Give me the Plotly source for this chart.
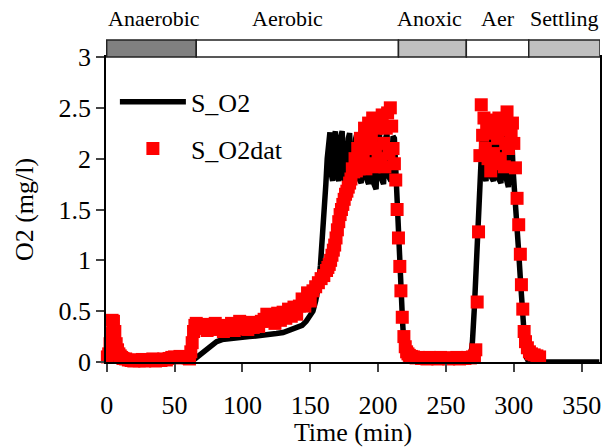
import plotly.graph_objects as go

# ---- data ----
t_model = [0, 10, 20, 30, 40, 50, 60, 64, 66, 68, 70, 72, 75, 78, 81, 85, 90, 95, 100, 105, 110,
           115, 120, 125, 130, 135, 140, 144, 147, 150, 152, 154, 156, 157.5, 159, 160.5, 161.5,
           162.5, 163.3, 164.5, 165.5, 166.5, 167.5, 168.5, 169.5, 171, 172.5, 173.5, 175, 176.5,
           178, 179, 180.5, 182, 183.5, 184.5, 186, 187.5, 189, 190, 191.5, 193, 194.5, 195.5, 197,
           198.5, 200, 201, 202.5, 204, 205.5, 206.5, 208, 209.5, 211, 212, 213, 214, 215, 216, 217,
           218, 219, 220, 221, 223, 240, 260, 267, 268, 269.5, 271, 272, 273, 274, 275, 276, 276.8,
           278, 279.5, 281, 282, 283.5, 285, 286.5, 287.5, 289, 290.5, 292, 293, 294.5, 296, 297.5,
           298.5, 299.5, 300.5, 302, 303.5, 305, 306.5, 308, 309.5, 311, 315, 330, 345, 363]
s_o2 = [0, 0, 0, 0, 0, 0, 0.01, 0.02, 0.04, 0.06, 0.08, 0.1, 0.13, 0.17, 0.2, 0.22, 0.23, 0.24,
        0.245, 0.25, 0.255, 0.26, 0.27, 0.28, 0.29, 0.31, 0.33, 0.36, 0.4, 0.45, 0.5, 0.6, 0.75,
        0.95, 1.2, 1.5, 1.75, 2.0, 2.15, 2.26, 1.85, 1.78, 2.2, 2.27, 1.85, 1.78, 2.22, 2.27, 1.8,
        1.77, 2.2, 2.25, 1.82, 1.78, 2.2, 2.25, 1.8, 1.76, 2.2, 2.25, 1.8, 1.75, 2.18, 2.24, 1.75,
        1.7, 2.2, 2.25, 1.8, 1.75, 2.2, 2.25, 1.82, 1.78, 2.22, 2.2, 1.9, 1.55, 1.22, 0.92, 0.65,
        0.4, 0.18, 0.05, 0.01, 0.0, 0.0, 0.0, 0.0, 0.02, 0.2, 0.55, 0.82, 1.12, 1.45, 1.78, 2.1,
        2.25, 1.85, 1.78, 2.2, 2.25, 1.82, 1.78, 2.2, 2.25, 1.8, 1.76, 2.2, 2.24, 1.8, 1.72, 2.15,
        2.2, 1.88, 1.62, 1.38, 1.1, 0.78, 0.45, 0.2, 0.04, 0.0, 0.0, 0.0, 0.0, 0.0]

t_dat = [0.5, 1.5, 2.5, 3.3, 4, 5, 6, 7, 8, 9, 10, 11, 12, 14, 16, 18, 20, 22, 24, 26, 28, 30,
         32, 34, 36, 38, 40, 42, 44, 46, 48, 50, 52, 54, 56, 58, 60, 61, 62, 63, 64, 65, 66, 68,
         70, 72, 74, 76, 78, 80, 82, 84, 86, 88, 90, 92, 94, 96, 98, 100, 102, 104, 106, 108, 110,
         112, 114, 116, 118, 120, 122, 124, 126, 128, 130, 132, 134, 136, 138, 140, 142, 144, 146,
         148, 150, 152, 154, 156, 158, 160, 162, 163, 164, 165, 166, 167, 168, 169, 170, 171, 172,
         173, 174, 175, 176, 177, 178, 179, 180, 181, 182, 183, 184, 185, 186, 187, 188, 189, 190,
         191, 192, 193, 194, 195, 196, 197, 198, 199, 200, 201, 202, 203, 204, 205, 206, 207, 208,
         209, 210, 211, 212, 213, 214, 215, 216, 216.8, 217.8, 219, 220, 221, 222, 223, 224.5,
         226, 228, 230, 232, 234, 236, 238, 240, 242, 244, 246, 248, 250, 252, 254, 256, 258, 260,
         262, 264, 266, 268, 269.5, 271, 272, 273, 274, 275, 276, 277, 278, 279, 280, 281, 282,
         283, 284, 285, 286, 287, 288, 289, 290, 291, 292, 293, 294, 295, 296, 297, 298, 299, 300,
         301.2, 302.4, 303.6, 304.8, 305.6, 306.6, 307.6, 308.6, 310, 311.5, 313, 315, 317, 319]
s_o2dat = [0.05, 0.08, 0.18, 0.28, 0.41, 0.4, 0.3, 0.18, 0.12, 0.08, 0.06, 0.045, 0.035, 0.03,
           0.02, 0.015, 0.01, 0.02, 0.012, 0.025, 0.01, 0.02, 0.015, 0.03, 0.01, 0.02, 0.015,
           0.03, 0.02, 0.035, 0.045, 0.05, 0.04, 0.055, 0.045, 0.05, 0.04, 0.03, 0.1, 0.19, 0.3,
           0.36, 0.38, 0.36, 0.33, 0.37, 0.31, 0.36, 0.33, 0.38, 0.32, 0.35, 0.3, 0.36, 0.33, 0.38,
           0.31, 0.36, 0.4, 0.33, 0.37, 0.32, 0.39, 0.34, 0.38, 0.35, 0.4, 0.42, 0.47, 0.4, 0.46,
           0.38, 0.48, 0.41, 0.49, 0.43, 0.52, 0.45, 0.54, 0.47, 0.55, 0.62, 0.55, 0.68, 0.6, 0.7,
           0.74, 0.78, 0.82, 0.85, 0.9, 0.93, 0.96, 1.0, 1.05, 1.1, 1.15, 1.22, 1.3, 1.38, 1.45,
           1.5, 1.55, 1.6, 1.65, 1.68, 1.72, 1.76, 1.8, 1.9, 1.87, 2.0, 1.88, 2.1, 1.9, 2.2, 1.95,
           2.05, 2.3, 1.9, 2.15, 2.35, 1.95, 2.2, 2.4, 1.92, 2.1, 2.3, 2.0, 2.38, 1.95, 2.43, 2.15,
           1.92, 2.3, 2.45, 2.05, 2.5, 2.32, 2.1, 1.95, 1.79, 1.5, 1.22, 0.94, 0.7, 0.44, 0.25,
           0.15, 0.1, 0.08, 0.065, 0.055, 0.05, 0.04, 0.045, 0.035, 0.04, 0.03, 0.045, 0.035, 0.04,
           0.03, 0.045, 0.035, 0.04, 0.03, 0.04, 0.035, 0.045, 0.03, 0.04, 0.035, 0.045, 0.04,
           0.05, 0.06, 0.12, 0.59, 1.28, 2.03, 2.53, 2.23, 2.4, 2.1, 2.3, 2.0, 2.38, 1.88, 2.25,
           2.05, 2.35, 1.95, 2.2, 2.4, 2.0, 2.28, 2.35, 1.92, 2.15, 2.46, 2.1, 2.3, 2.25, 2.35,
           2.15, 1.91, 1.61, 1.35, 1.06, 0.76, 0.52, 0.3, 0.2, 0.14, 0.1, 0.08, 0.07, 0.06, 0.05,
           0.045]

phase_names = ["Anaerobic", "Aerobic", "Anoxic", "Aer", "Settling"]
phase_start = [0, 66, 215, 265, 311]
phase_end = [66, 215, 265, 311, 363.5]
phase_label_t = [35, 133, 238, 288, 337]
phase_colors = ["#808080", "#ffffff", "#c0c0c0", "#ffffff", "#c0c0c0"]

x_ticks = [0, 50, 100, 150, 200, 250, 300, 350]

FONT = "Liberation Serif"

fig = go.Figure()
fig.add_trace(go.Scatter(x=t_model, y=s_o2, mode="lines", name="S_O2",
                         line=dict(color="black", width=5.5), legendgroup="a"))
fig.add_trace(go.Scatter(x=t_dat, y=s_o2dat, mode="markers", name="S_O2dat",
                         marker=dict(symbol="square", size=13, color="#ff0000"),
                         cliponaxis=False, legendgroup="b"))

plot_h = 305.0
for name, s, e, c, lt in zip(phase_names, phase_start, phase_end, phase_colors, phase_label_t):
    fig.add_shape(type="rect", xref="x", yref="paper", x0=s, x1=e, y0=1.0, y1=1.0 + 17 / plot_h,
                  fillcolor=c, line=dict(color="#222222", width=1.5), layer="above")
    fig.add_annotation(x=lt, y=1.0 + 39 / plot_h, xref="x", yref="paper", text=name,
                       showarrow=False, xanchor="center", yanchor="middle",
                       font=dict(family=FONT, size=22, color="black"))

fig.update_layout(
    width=608, height=447,
    margin=dict(l=106, r=6, t=57, b=85),
    paper_bgcolor="white", plot_bgcolor="white",
    font=dict(family=FONT, size=26, color="black"),
    showlegend=True,
    legend=dict(x=0.018, y=0.93, xanchor="left", yanchor="top", bgcolor="rgba(0,0,0,0)",
                font=dict(family=FONT, size=26), itemwidth=66, tracegroupgap=10,
                traceorder="grouped"),
)
fig.update_xaxes(range=[-0.5, 363.5], tickvals=x_ticks, ticks="outside", ticklen=8, tickwidth=1.5,
                 showline=True, linecolor="black", linewidth=1.5, mirror=True, showgrid=False,
                 zeroline=False, tickfont=dict(family=FONT, size=26), ticklabelstandoff=11,
                 title=dict(text="Time (min)", font=dict(family=FONT, size=26), standoff=0))
fig.update_yaxes(range=[0, 3], dtick=0.5, ticks="outside", ticklen=8, tickwidth=1.5,
                 showline=True, linecolor="black", linewidth=1.5, mirror=True, showgrid=False,
                 zeroline=False, tickfont=dict(family=FONT, size=26),
                 title=dict(text="O2 (mg/l)", font=dict(family=FONT, size=26), standoff=17))

fig.write_html("out.html")
